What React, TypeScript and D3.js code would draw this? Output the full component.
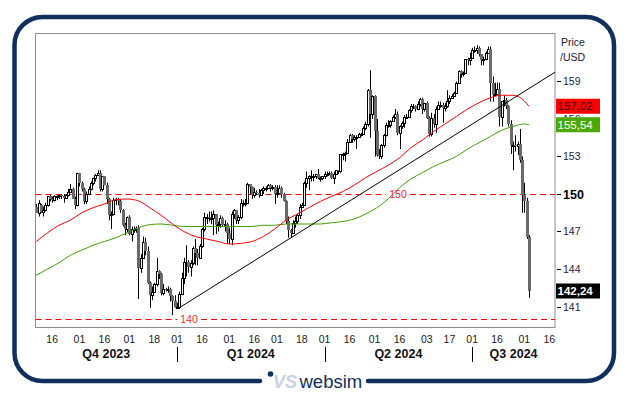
import React from 'react';
import * as d3 from 'd3';

// ---- data (USD/JPY daily, weekday candles) ----
const START = '2023-10-05';
const AXIS_END = '2024-09-02';

const OPEN = [
  149.0,148.5,149.1,148.6,148.7,149.1,149.8,149.6,149.5,149.8,149.8,149.9,149.8,149.7,149.9,150.2,150.4,149.6,149.1,
  151.7,150.9,150.4,149.4,150.0,150.4,150.9,151.3,151.5,151.7,150.4,151.4,150.7,149.6,148.3,148.4,149.5,149.6,149.4,148.7,147.5,147.2,
  148.2,146.8,147.2,147.2,147.3,144.1,144.9,146.2,145.4,142.9,141.9,142.2,142.8,143.8,143.6,142.1,142.4,142.3,142.4,141.8,141.4,
  141.0,141.0,142.0,143.3,144.6,144.6,144.2,144.5,145.7,145.3,144.9,145.8,147.2,148.2,148.2,148.1,148.1,148.4,147.5,147.6,148.1,147.5,147.6,
  146.9,146.4,148.4,148.7,147.9,148.2,149.3,149.3,149.3,150.8,150.6,149.9,150.2,150.1,149.9,150.3,150.5,150.5,150.7,150.5,150.6,
  150.0,150.1,150.5,150.0,149.4,147.8,147.1,146.9,147.7,147.8,148.3,149.0,149.1,150.9,151.3,151.4,151.4,151.4,151.6,151.3,151.3,
  151.4,151.6,151.6,151.7,151.3,151.6,151.9,151.8,153.2,153.2,153.3,154.2,154.7,154.4,154.6,154.6,154.8,154.8,155.3,155.6,158.3,156.4,
  157.8,155.0,153.1,153.0,153.9,154.7,155.5,155.5,155.8,156.2,156.4,154.9,155.4,155.7,156.2,156.2,156.7,157.0,157.0,156.8,157.2,157.6,156.8,
  157.3,156.1,154.8,156.1,155.6,156.8,157.1,157.1,156.9,157.0,157.4,157.7,157.8,158.1,158.9,159.8,159.6,159.7,160.8,160.7,
  160.9,161.5,161.5,161.7,161.2,160.7,160.8,161.3,161.6,158.9,157.9,158.0,158.4,156.2,157.4,157.5,157.0,155.6,153.9,153.9,153.8,154.0,152.7,
  149.9,149.4,146.6,
];
const HIGH = [
  149.2,149.5,149.2,149.0,149.3,149.8,149.9,149.8,149.9,149.9,150.0,150.0,150.0,150.0,150.4,150.8,150.5,149.8,151.7,
  151.7,151.0,150.5,150.2,150.6,151.0,151.3,151.6,151.9,151.9,151.4,151.4,150.9,149.7,148.6,149.7,149.7,149.7,149.6,148.8,147.7,148.2,
  148.3,147.4,147.4,147.4,147.5,145.2,146.6,146.5,145.8,143.0,142.6,142.9,144.9,143.9,143.7,142.8,142.5,142.6,142.5,141.9,141.9,
  141.3,142.2,143.7,144.9,145.9,144.7,144.7,145.8,146.4,145.6,146.0,147.3,148.5,148.4,148.6,148.6,148.7,148.4,147.8,148.3,148.2,147.9,147.7,
  147.3,148.6,148.8,148.7,148.3,149.6,149.5,149.6,150.9,150.8,150.6,150.5,150.3,150.4,150.4,150.6,150.6,150.8,150.8,150.7,150.7,
  150.7,150.7,150.6,150.1,149.5,148.2,147.2,147.9,148.2,148.4,149.2,149.3,151.0,151.8,151.5,151.9,151.6,151.6,152.0,151.4,151.4,
  151.8,151.8,151.8,151.8,151.8,151.9,151.9,153.2,153.3,153.4,154.4,154.8,154.8,154.7,154.7,154.9,154.9,155.4,155.8,158.4,159.9,157.9,
  157.9,156.0,153.6,154.0,154.8,155.7,155.9,155.9,156.3,156.8,156.6,155.5,155.8,156.3,156.4,156.8,157.2,157.2,157.1,157.4,157.7,157.7,157.3,
  157.4,156.2,156.5,156.4,157.0,157.4,157.4,157.3,157.3,158.3,157.9,158.0,158.2,159.0,159.9,159.9,159.8,160.8,160.9,161.3,
  161.7,161.8,161.9,161.8,161.2,161.0,161.4,161.8,161.8,159.4,158.9,158.9,158.9,157.4,157.9,157.7,157.1,155.9,154.2,154.7,154.2,155.2,153.0,
  150.9,149.7,146.7,
];
const LOW = [
  148.5,148.2,148.5,148.2,148.6,149.0,149.4,149.3,149.4,149.5,149.6,149.6,149.3,149.6,149.8,150.1,149.6,148.8,149.0,
  150.6,150.2,149.2,149.2,149.9,150.3,150.7,151.0,151.5,150.2,150.2,150.7,149.2,147.9,147.2,148.3,149.1,149.1,148.5,147.4,146.7,146.9,
  146.7,146.2,146.9,146.9,141.6,143.7,144.8,145.1,142.8,140.9,141.5,142.1,142.6,143.2,141.9,141.9,142.2,142.1,141.4,140.3,140.9,
  140.8,140.8,141.9,142.8,143.4,143.7,143.4,144.3,144.3,144.3,144.8,145.7,147.0,147.6,147.8,147.6,146.7,146.8,147.0,147.3,147.4,147.0,146.0,
  146.0,145.9,148.0,147.6,147.6,148.0,149.0,149.0,149.2,150.0,149.6,149.7,149.9,149.7,149.9,150.0,150.2,150.4,150.2,150.3,149.2,
  149.7,150.0,149.7,149.4,147.6,146.5,146.5,146.8,147.3,147.6,148.0,148.9,149.1,150.5,150.3,151.0,151.0,151.2,151.2,151.0,151.1,
  151.2,151.4,151.5,151.2,150.8,151.6,151.6,151.7,152.7,152.6,153.2,154.1,154.1,154.2,153.6,154.6,154.6,154.8,155.1,155.4,154.5,156.0,
  153.0,153.0,152.8,152.8,153.7,154.6,155.3,155.3,155.8,156.0,154.7,153.6,155.2,155.3,156.0,156.2,156.5,156.8,156.6,156.7,157.0,156.4,156.6,
  156.0,154.6,154.6,155.3,154.9,156.8,156.9,155.7,156.6,156.9,157.2,157.6,157.8,158.0,158.8,159.3,159.4,159.7,160.3,160.3,
  160.8,161.3,161.2,161.0,160.3,160.3,160.7,161.2,157.4,157.4,157.9,157.9,155.4,155.4,157.0,156.8,155.4,153.2,151.9,153.4,153.1,152.5,148.5,
  148.5,146.4,141.7,
];
const CLOSE = [
  148.5,149.3,148.6,148.7,149.1,149.8,149.6,149.5,149.8,149.8,149.9,149.8,149.7,149.9,150.2,150.4,149.6,149.1,151.7,
  150.9,150.4,149.4,150.0,150.4,150.9,151.3,151.5,151.7,150.4,151.4,150.7,149.6,148.3,148.4,149.5,149.6,149.4,148.7,147.5,147.2,148.2,
  146.8,147.2,147.2,147.3,144.1,144.9,146.2,145.4,142.9,141.9,142.2,142.8,143.8,143.6,142.1,142.4,142.3,142.4,141.8,141.4,141.0,
  141.0,142.0,143.3,144.6,144.6,144.2,144.5,145.7,145.3,144.9,145.8,147.2,148.2,148.2,148.1,148.1,148.4,147.5,147.6,148.1,147.5,147.6,146.9,
  146.4,148.4,148.7,147.9,148.2,149.3,149.3,149.3,150.8,150.6,149.9,150.2,150.1,149.9,150.3,150.5,150.5,150.7,150.5,150.6,150.0,
  150.1,150.5,150.0,149.4,147.8,147.1,146.9,147.7,147.8,148.3,149.0,149.1,150.9,151.3,151.4,151.4,151.4,151.6,151.3,151.3,151.4,
  151.6,151.6,151.7,151.3,151.6,151.9,151.8,153.2,153.2,153.3,154.2,154.7,154.4,154.6,154.6,154.8,154.8,155.3,155.6,158.3,156.4,157.8,
  155.0,153.1,153.0,153.9,154.7,155.5,155.5,155.8,156.2,156.4,154.9,155.4,155.7,156.2,156.2,156.7,157.0,157.0,156.8,157.2,157.6,156.8,157.3,
  156.1,154.8,156.1,155.6,156.8,157.1,157.1,156.9,157.0,157.4,157.7,157.8,158.1,158.9,159.8,159.6,159.7,160.8,160.7,160.9,
  161.5,161.5,161.7,161.2,160.7,160.8,161.3,161.6,158.9,157.9,158.0,158.4,156.2,157.4,157.5,157.0,155.6,153.9,153.9,153.8,154.0,152.7,149.9,
  149.4,146.6,142.24,
];

// moving averages, read every 5th candle
const MA_IDX = [0,5,10,15,20,25,30,35,40,45,50,55,60,65,70,75,80,85,90,95,100,105,110,115,120,125,130,135,140,145,150,155,160,165,170,175,180,185,190,195,200,205,210,215,217];
const RED_MA = [146.2,146.9,147.5,147.9,148.5,148.9,149.2,149.55,149.6,149.45,148.9,148.3,147.6,147.0,146.6,146.4,146.2,146.0,146.05,146.2,146.6,147.2,147.9,148.4,148.9,149.4,149.8,150.2,150.7,151.3,151.8,152.3,152.9,153.7,154.3,155.0,155.6,156.2,156.8,157.3,157.7,157.9,157.9,157.45,157.02];
const GREEN_MA = [143.5,144.0,144.5,145.1,145.5,145.9,146.2,146.5,146.9,147.3,147.55,147.6,147.5,147.4,147.4,147.4,147.4,147.4,147.4,147.4,147.5,147.5,147.6,147.6,147.6,147.6,147.7,147.8,148.0,148.4,148.9,149.6,150.5,151.2,151.7,152.2,152.6,153.0,153.6,154.1,154.6,155.1,155.4,155.6,155.54];

const TREND_DATES = ['2024-01-02', '2024-08-21'];
const TREND_VALUES = [140.9, 159.8];

const LEVELS = [150, 140];
const Y_TICKS = [141, 144, 147, 150, 153, 156, 159];
const X_TICKS = ['2023-10-16','2023-11-01','2023-11-16','2023-12-01','2023-12-18','2024-01-01','2024-01-16','2024-02-01','2024-02-16','2024-03-01','2024-03-18','2024-04-01','2024-04-16','2024-05-01','2024-05-16','2024-06-03','2024-06-17','2024-07-01','2024-07-16','2024-08-01','2024-08-16'];
const QUARTER_LABELS = ['Q4 2023', 'Q1 2024', 'Q2 2024', 'Q3 2024'];
const QUARTER_STARTS = ['2023-10-02', '2024-01-01', '2024-04-01', '2024-07-01'];

const FONT = 'Liberation Sans, Arial, sans-serif';
const NAVY = '#0f2f5c';

export default function App() {
  const parse = d3.timeParse('%Y-%m-%d');
  const fmt = d3.timeFormat('%Y-%m-%d');
  const days = d3.timeDay
    .range(parse(START) as Date, parse(AXIS_END) as Date)
    .filter((d) => d.getDay() !== 0 && d.getDay() !== 6);
  const idx = new Map<string, number>(days.map((d, i) => [fmt(d), i]));
  // dates before the first candle fall off the left edge
  const ix = (s: string) => (idx.has(s) ? (idx.get(s) as number) : -10);

  const L = 35.5, R = 555, T = 33, B = 328;
  const x = d3.scaleLinear().domain([-0.35, 228.5]).range([L, R]);
  const y = d3.scaleLinear().domain([139.28, 162.88]).range([B, T]);

  const candles = CLOSE.map((c, i) => ({ i, o: OPEN[i], h: HIGH[i], l: LOW[i], c }));

  const maLine = d3
    .line<number>()
    .x((_, k) => x(MA_IDX[k]))
    .y((v) => y(v))
    .curve(d3.curveMonotoneX);

  const trendLine = d3
    .line<number>()
    .x((_, k) => x(ix(TREND_DATES[k])))
    .y((v) => y(v));

  const qx = QUARTER_STARTS.map((s) => Math.max(L, x(ix(s))));
  const qRanges = qx.map((a, k) => [a, k + 1 < qx.length ? qx[k + 1] : R]);

  const fr = { l: 14.5, t: 17, r: 614, b: 381, rad: 28 };
  const framePath = `M260,${fr.b} H${fr.l + fr.rad} A${fr.rad},${fr.rad} 0 0 1 ${fr.l},${fr.b - fr.rad} V${fr.t + fr.rad} A${fr.rad},${fr.rad} 0 0 1 ${fr.l + fr.rad},${fr.t} H${fr.r - fr.rad} A${fr.rad},${fr.rad} 0 0 1 ${fr.r},${fr.t + fr.rad} V${fr.b - fr.rad} A${fr.rad},${fr.rad} 0 0 1 ${fr.r - fr.rad},${fr.b} H368`;

  const lastRed = RED_MA[RED_MA.length - 1];
  const lastGreen = GREEN_MA[GREEN_MA.length - 1];
  const lastClose = CLOSE[CLOSE.length - 1];
  const fmtVal = (v: number) => v.toFixed(2).replace('.', ',');
  const levelLabelX = (v: number) => (v === 150 ? 398 : 189);

  return (
    <svg
      width={629}
      height={395}
      style={{ position: 'absolute', left: 0, top: 0, background: '#fff' }}
      fontFamily={FONT}
    >
      <rect x={0} y={0} width={629} height={395} fill="#fff" />
      <defs>
        <clipPath id="plot">
          <rect x={L + 0.5} y={T + 0.5} width={R - L - 0.5} height={B - T - 1} />
        </clipPath>
      </defs>

      {/* outer frame */}
      <path d={framePath} fill="none" stroke={NAVY} strokeWidth={4.5} strokeLinecap="round" />

      {/* plot border */}
      <rect x={L} y={T + 0.5} width={R - L} height={B - T - 1} fill="#fff" stroke="#8c8c96" strokeWidth={1} />

      <g clipPath="url(#plot)">
        {/* horizontal levels with a gap for the label */}
        {LEVELS.map((v) => {
          const yy = Math.round(y(v)) + 0.5;
          const lx = levelLabelX(v);
          return (
            <g key={v}>
              <line x1={L} x2={lx - 12} y1={yy} y2={yy} stroke="#ff0000" strokeWidth={1.2} strokeDasharray="6,4" />
              <line x1={lx + 12} x2={R} y1={yy} y2={yy} stroke="#ff0000" strokeWidth={1.2} strokeDasharray="6,4" />
            </g>
          );
        })}

        {/* candles */}
        {candles.map((d) => {
          const cx = Math.round(x(d.i));
          const up = d.c >= d.o;
          const top = Math.round(y(Math.max(d.o, d.c)));
          const bot = Math.round(y(Math.min(d.o, d.c)));
          const hgt = Math.max(bot - top, 1);
          return (
            <g key={d.i}>
              <line x1={cx + 0.5} x2={cx + 0.5} y1={y(d.h)} y2={y(d.l)} stroke="#000" strokeWidth={1} />
              {up ? (
                <rect x={cx - 0.5} y={top + 0.5} width={2} height={hgt} fill="#fff" stroke="#000" strokeWidth={1} />
              ) : (
                <rect x={cx - 1} y={top} width={3} height={hgt} fill="#6a6a6a" />
              )}
            </g>
          );
        })}

        {/* moving averages & trend */}
        <path d={maLine(GREEN_MA) || ''} fill="none" stroke="#3fa000" strokeWidth={1} />
        <path d={maLine(RED_MA) || ''} fill="none" stroke="#ff0000" strokeWidth={1} />
        <path d={trendLine(TREND_VALUES) || ''} fill="none" stroke="#000" strokeWidth={1} />
      </g>

      {/* level labels */}
      {LEVELS.map((v) => (
        <text key={'lab' + v} x={levelLabelX(v)} y={y(v)} dy="0.35em" textAnchor="middle" fontSize={10.5} fill="#ff2a2a">
          {v}
        </text>
      ))}

      {/* right axis */}
      <text x={561} y={42} dy="0.35em" fontSize={10.5} fill="#1a1a3a">Price</text>
      <text x={560} y={57} dy="0.35em" fontSize={10.5} fill="#1a1a3a">/USD</text>
      {Y_TICKS.map((v) => {
        const yy = Math.round(y(v)) + 0.5;
        const big = v === 150;
        return (
          <g key={'yt' + v}>
            <line x1={557} x2={561} y1={yy} y2={yy} stroke="#000" strokeWidth={1} />
            <text x={563} y={yy} dy="0.36em" fontSize={big ? 12.5 : 10.5} fontWeight={big ? 'bold' : 'normal'}
              fill={big ? '#000' : '#2a1848'}>{v}</text>
          </g>
        );
      })}

      {/* value boxes */}
      {[
        { v: lastRed, bg: '#ff0000', fg: '#2a0000', bold: false },
        { v: lastGreen, bg: '#4aa800', fg: '#ffffff', bold: false },
        { v: lastClose, bg: '#000000', fg: '#ffffff', bold: true },
      ].map((b) => (
        <g key={'box' + b.v}>
          <rect x={556} y={y(b.v) - 7.5} width={44} height={15} fill={b.bg} />
          <text x={557.5} y={y(b.v)} dy="0.36em" fontSize={11.5} fontWeight={b.bold ? 'bold' : 'normal'} fill={b.fg}>
            {fmtVal(b.v)}
          </text>
        </g>
      ))}

      {/* x axis labels */}
      {X_TICKS.map((s) => (
        <text key={s} x={x(ix(s))} y={339} dy="0.35em" textAnchor="middle" fontSize={10.5} fill="#1a1a1a">
          {d3.timeFormat('%d')(parse(s) as Date)}
        </text>
      ))}
      {qRanges.map((r, k) => (
        <text key={QUARTER_LABELS[k]} x={(r[0] + r[1]) / 2} y={354} dy="0.35em" textAnchor="middle"
          fontSize={12.5} fontWeight="bold" fill="#111">
          {QUARTER_LABELS[k]}
        </text>
      ))}
      {QUARTER_STARTS.slice(1).map((s) => {
        const xx = Math.round(x(ix(s))) + 0.5;
        return <line key={'sep' + s} x1={xx} x2={xx} y1={347} y2={362} stroke="#000" strokeWidth={1} />;
      })}

      {/* logo */}
      <circle cx={270.5} cy={374} r={2.8} fill={NAVY} />
      <text x={273} y={388} fontSize={18} fontStyle="italic" fontWeight="bold" fill="#c5d0e1">VS</text>
      <text x={299.5} y={388} fontSize={18.5} fill={NAVY}>websim</text>
    </svg>
  );
}
